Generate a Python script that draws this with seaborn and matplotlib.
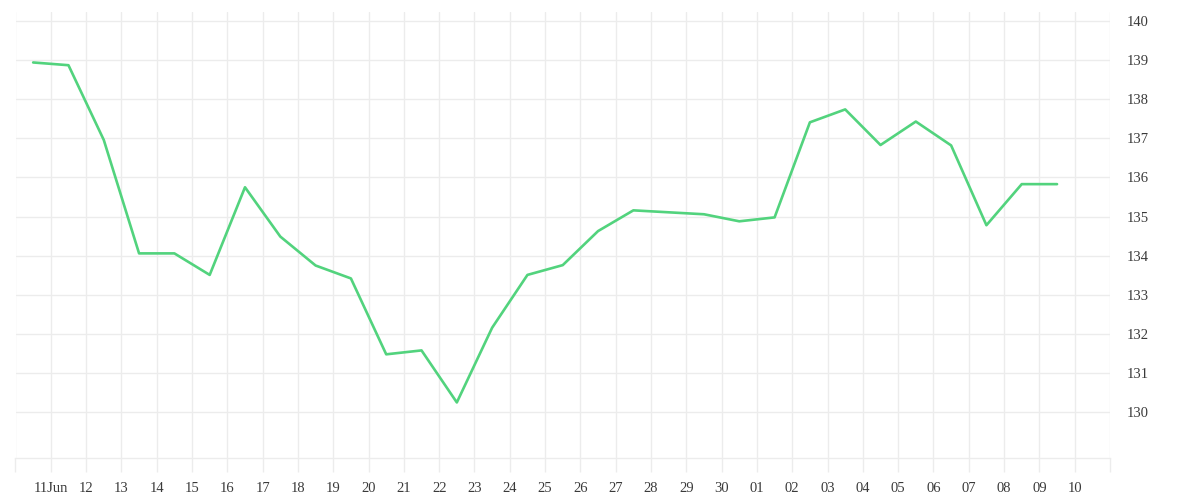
import matplotlib
matplotlib.use("Agg")
import matplotlib.pyplot as plt
import matplotlib.dates as mdates
import seaborn as sns
import pandas as pd
import numpy as np

# ---- data ----
start_date = "2023-06-10 12:00"
values = [138.94, 138.87, 136.96, 134.06, 134.06, 133.51, 135.75, 134.49, 133.75, 133.42,
          131.48, 131.58, 130.25, 132.16, 133.51, 133.76, 134.63, 135.16, 135.11, 135.06,
          134.88, 134.98, 137.41, 137.74, 136.83, 137.43, 136.82, 134.78, 135.83, 135.83]
y_ticks = [130, 131, 132, 133, 134, 135, 136, 137, 138, 139, 140]
x_tick_labels = ["", "11Jun", "12", "13", "14", "15", "16", "17", "18", "19", "20", "21",
                 "22", "23", "24", "25", "26", "27", "28", "29", "30", "01", "02", "03",
                 "04", "05", "06", "07", "08", "09", "10", ""]

dates = pd.date_range(start_date, periods=len(values), freq="D")
df = pd.DataFrame({"date": dates, "value": values})

sns.set_theme(style="white")
plt.rcParams["font.family"] = ["Liberation Serif", "DejaVu Serif"]

grid_col = "#ececec"
text_col = "#3a3a3a"
line_col = "#52d37d"

fig = plt.figure(figsize=(12, 5), dpi=100)
ax = fig.add_axes([15.5 / 1200, 1 - 458 / 500, (1110 - 15.5) / 1200, (458 - 12) / 500])

sns.lineplot(data=df, x="date", y="value", ax=ax, color=line_col, linewidth=1.9)

tick_dates = pd.date_range("2023-06-10", periods=len(x_tick_labels), freq="D")
ax.set_xlim(tick_dates[0], tick_dates[-1])
ax.set_ylim(128.83, 140.23)
ax.set_xticks(tick_dates)
ax.set_xticklabels(x_tick_labels)
ax.set_yticks(y_ticks)
ax.set_yticklabels([str(v) for v in y_ticks])

ax.yaxis.tick_right()
ax.set_xlabel("")
ax.set_ylabel("")

ax.grid(True, color=grid_col, linewidth=1)
ax.set_axisbelow(True)
for s in ["top", "left", "right"]:
    ax.spines[s].set_visible(False)
ax.spines["bottom"].set_color(grid_col)
ax.spines["bottom"].set_linewidth(1)

ax.tick_params(axis="x", length=10, width=1, color=grid_col, pad=7,
               labelsize=10.5, labelcolor=text_col, direction="out", bottom=True)
ax.tick_params(axis="y", length=0, pad=12, labelsize=10.5, labelcolor=text_col, right=True)
for lbl in ax.get_yticklabels():
    lbl.set_horizontalalignment("left")

fig.savefig("out.png", dpi=100, facecolor="white")
